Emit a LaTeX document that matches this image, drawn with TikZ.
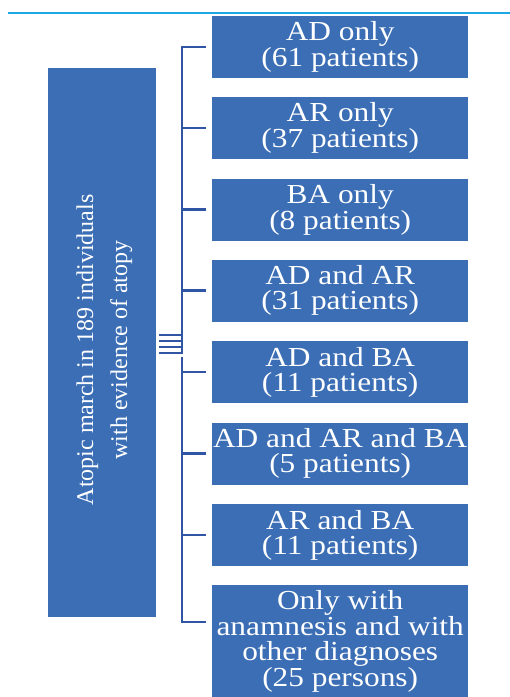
\documentclass[tikz,border=0pt]{standalone}
\usepackage{fontspec}
\setmainfont{Liberation Serif}
\newfontfamily\widefont[FakeStretch=1.14]{Liberation Serif}
\definecolor{boxblue}{HTML}{3B6EB5}
\definecolor{brblue}{HTML}{2F55A4}
\definecolor{topline}{HTML}{1CA8E2}
\begin{document}
\begin{tikzpicture}[x=1pt,y=-1pt,
  rbox/.style={fill=boxblue,draw=none,text=white,align=center,inner sep=0pt,
    minimum width=256pt,minimum height=62pt,anchor=north west,
    font=\widefont\fontsize{27.5}{25}\selectfont},
  br/.style={draw=brblue,line width=2.5pt}]
\useasboundingbox (0,0) rectangle (510,697);
\fill[white] (0,0) rectangle (510,697);
\draw[topline,line width=1.8pt] (8,13.3) -- (510,13.3);
% left box
\node[fill=boxblue,inner sep=0pt,minimum width=108pt,minimum height=549pt,anchor=north west] (L) at (48,68) {};
\node[text=white,rotate=90,align=center,font=\fontsize{24}{34}\selectfont] (Lt) at (104.5,350)
  {Atopic march in 189 individuals\\with evidence of atopy};
% right boxes
\node[rbox] (b1) at (212,15.3) {AD only\\(61 patients)};
\node[rbox] (b2) at (212,96.7) {AR only\\(37 patients)};
\node[rbox] (b3) at (212,178.3) {BA only\\(8 patients)};
\node[rbox] (b4) at (212,259.5) {AD and AR\\(31 patients)};
\node[rbox] (b5) at (212,341) {AD and BA\\(11 patients)};
\node[rbox] (b6) at (212,422.3) {AD and AR and BA\\(5 patients)};
\node[rbox] (b7) at (212,504) {AR and BA\\(11 patients)};
\node[rbox,minimum height=112pt] (b8) at (212,585) {Only with\\anamnesis and with\\other diagnoses\\(25 persons)};
% bracket
\coordinate (sT) at (182,47);
\coordinate (sG1) at (182,353.5);
\coordinate (sG2) at (182,356.5);
\coordinate (sB) at (182,622);
\coordinate (eB) at (206,622);
\draw[br] ([xshift=-6pt]b1.west|-sT) -- (sT) -- (sG1);
\draw[br] (sG2) -- (sB) -- (eB);
\foreach \i in {2,...,7}
  \draw[br] ([xshift=-6pt]b\i.west) -- (sT|-b\i.west);
\foreach \yy in {335.3,341.3,347,352.5}
  \draw[draw=brblue,line width=2pt] (159,\yy) -- (182,\yy);
\end{tikzpicture}
\end{document}
